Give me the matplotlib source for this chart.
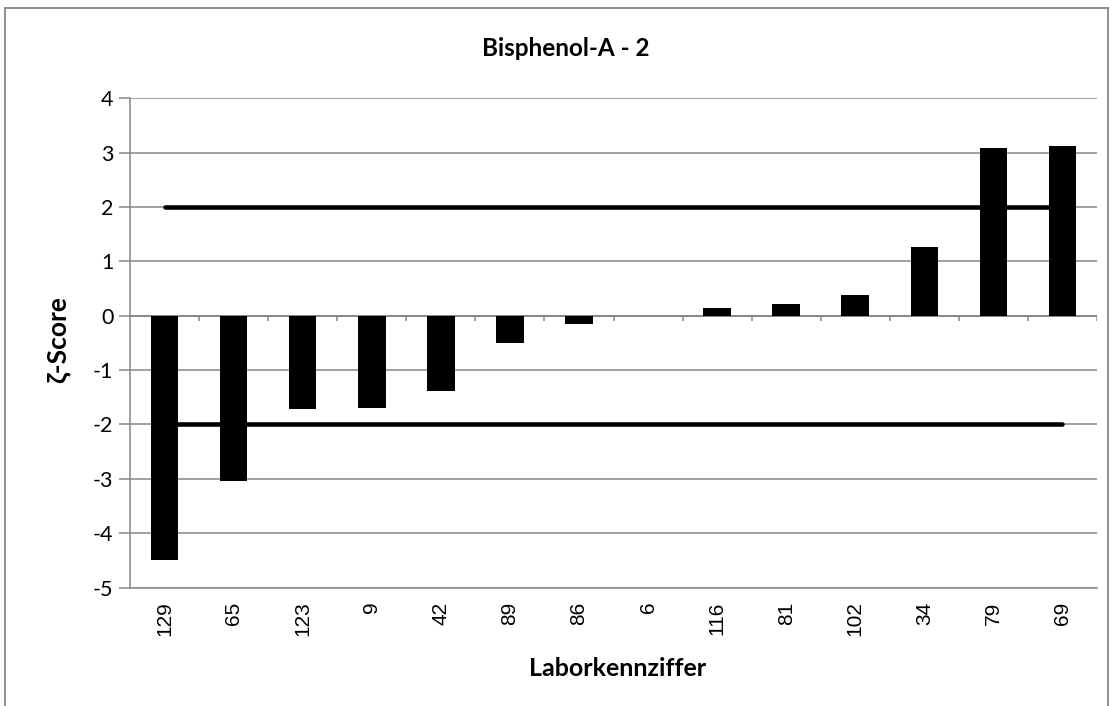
import matplotlib
matplotlib.use("Agg")
import matplotlib.pyplot as plt
from matplotlib.lines import Line2D

labs = ["129", "65", "123", "9", "42", "89", "86", "6", "116", "81", "102", "34", "79", "69"]
scores = [-4.49, -3.04, -1.72, -1.70, -1.38, -0.50, -0.15, 0.0, 0.14, 0.21, 0.38, 1.26, 3.09, 3.12]
limit_upper = 2
limit_lower = -2
y_ticks = [4, 3, 2, 1, 0, -1, -2, -3, -4, -5]
title = "Bisphenol-A - 2"
xlabel = "Laborkennziffer"
ylabel = "ζ-Score"

GRAY = "#868686"
W, H = 1115, 706
fig = plt.figure(figsize=(W / 100, H / 100), dpi=100)
ax = fig.add_axes([130 / W, 1 - 587.5 / H, (1097 - 130) / W, (587.5 - 98.3) / H])

n = len(labs)
xs = list(range(n))
ax.set_xlim(-0.5, n - 0.5)
ax.set_ylim(-5, 4)

# gridlines
ax.set_yticks(y_ticks)
ax.set_yticklabels([str(t) for t in y_ticks], family=["Lato", "DejaVu Sans"], fontsize=15.5)
ax.yaxis.grid(True, color=GRAY, lw=1.1)
ax.set_axisbelow(True)
ax.tick_params(axis="y", length=8, width=1.1, color=GRAY, pad=4)

# bars
ax.bar(xs, scores, width=0.4, color="black", linewidth=0, zorder=3)

# horizontal axis at zero with boundary ticks
ax.axhline(0, color=GRAY, lw=1.3, zorder=2)
for b in range(1, n + 1):
    ax.plot([b - 0.5, b - 0.5], [0, -0.09], color=GRAY, lw=1.1, zorder=2, solid_capstyle="butt")

# limit lines
ax.plot([xs[0], xs[-1]], [limit_upper, limit_upper], color="black", lw=3.3, solid_capstyle="round", zorder=4)
ax.plot([xs[0], xs[-1]], [limit_lower, limit_lower], color="black", lw=3.3, solid_capstyle="round", zorder=4)

# x tick labels at bottom
ax.set_xticks(xs)
ax.set_xticklabels(labs, rotation=90, family=["Liberation Sans", "DejaVu Sans"], fontsize=15)
ax.tick_params(axis="x", length=0, pad=10)

for s in ["top", "right"]:
    ax.spines[s].set_visible(False)
ax.spines["left"].set_color(GRAY)
ax.spines["left"].set_linewidth(1.1)
ax.spines["bottom"].set_color(GRAY)
ax.spines["bottom"].set_linewidth(1.1)

fig.text(566 / W, 1 - 56 / H, title, family=["Lato", "DejaVu Sans"], fontweight="bold",
         fontsize=17.5, ha="center", va="baseline")
fig.text(618 / W, 1 - 676 / H, xlabel, family=["Lato", "DejaVu Sans"], fontweight="bold",
         fontsize=18, ha="center", va="baseline")
fig.text(58 / W, 1 - 340 / H, ylabel, family=["Lato", "DejaVu Sans"], fontweight="bold",
         fontsize=19, ha="center", va="center", rotation=90)

# chart-area border
for seg in [((5 / W, 5 / W), (0, 1 - 8 / H)), ((5 / W, 1108 / W), (1 - 8 / H, 1 - 8 / H)), ((1108 / W, 1108 / W), (1 - 8 / H, 0))]:
    fig.add_artist(Line2D(seg[0], seg[1], transform=fig.transFigure, color=GRAY, lw=1.3))

fig.savefig("out.png", dpi=100)
